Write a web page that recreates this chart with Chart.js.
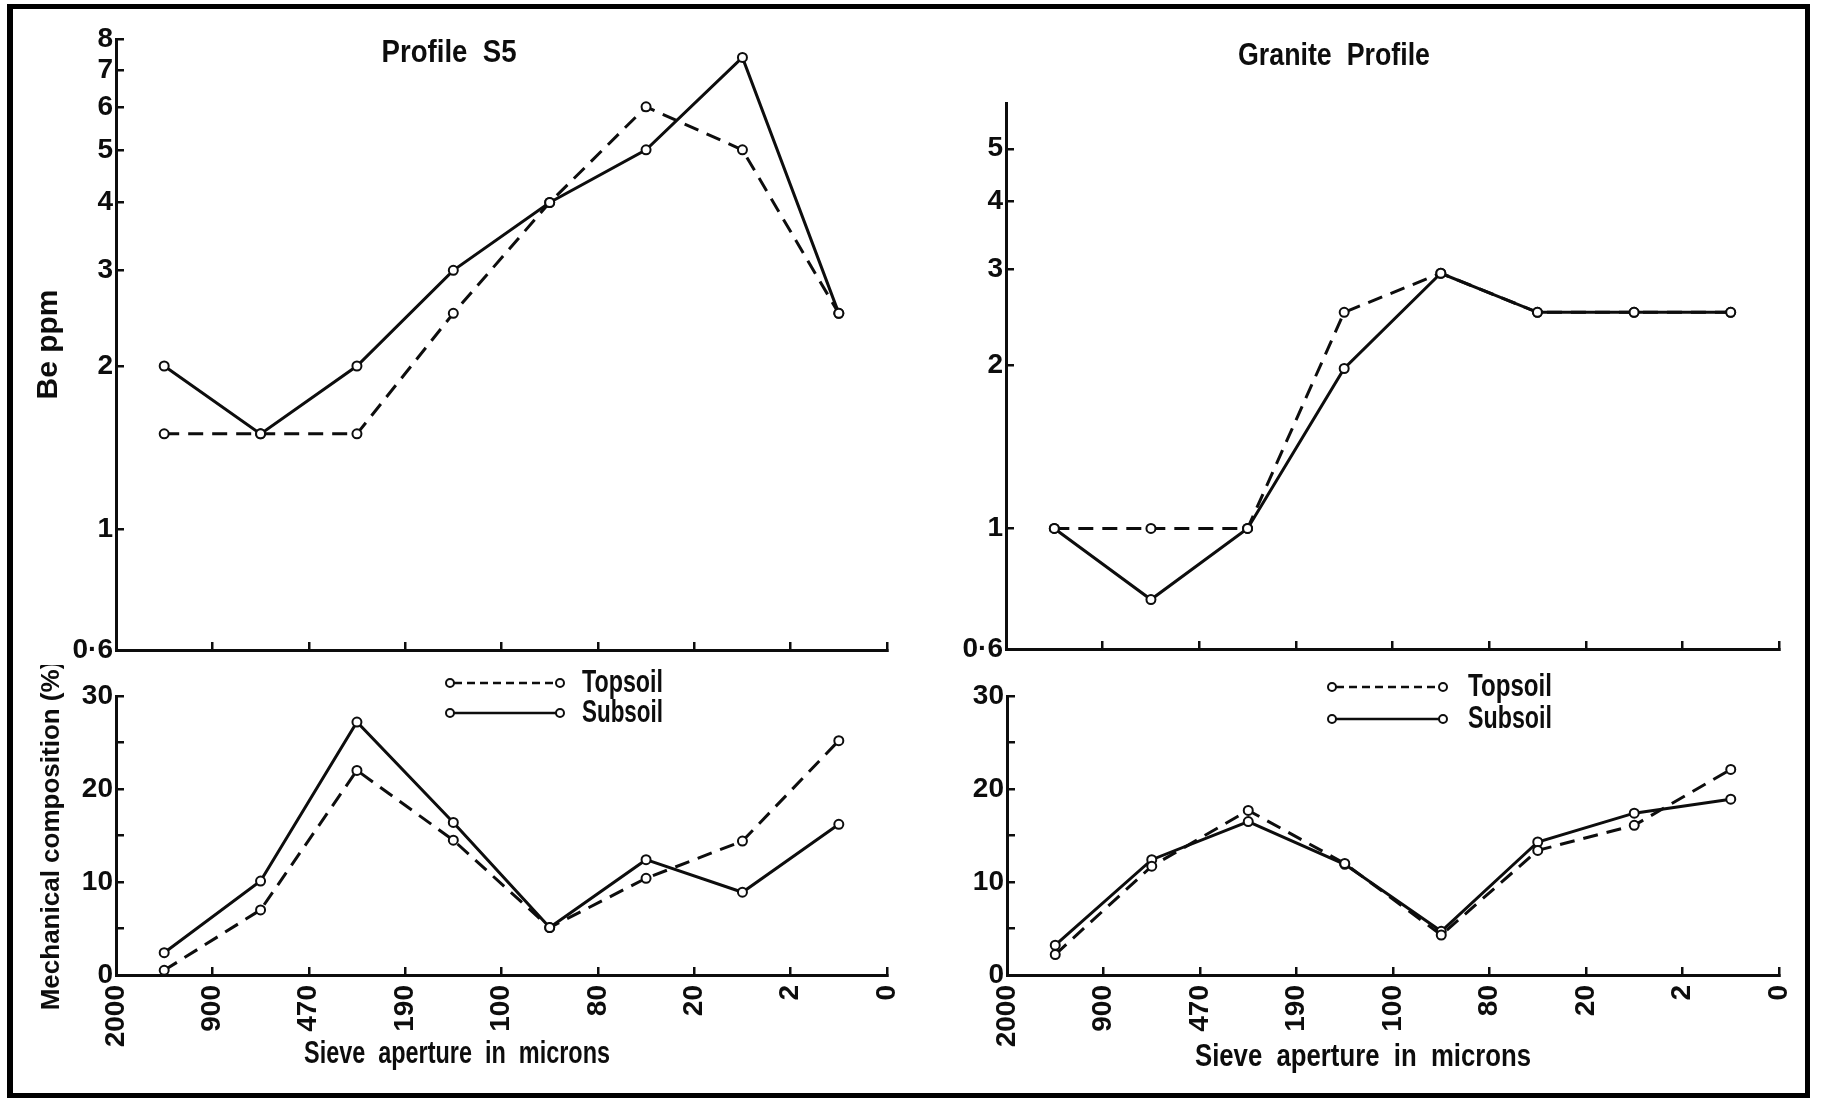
<!DOCTYPE html>
<html>
<head>
<meta charset="utf-8">
<title>Be and mechanical composition by sieve fraction</title>
<script src="https://cdn.jsdelivr.net/npm/chart.js@4.4.1/dist/chart.umd.min.js"></script>
<style>
  html, body { margin: 0; padding: 0; background: #fff; }
  #page { position: relative; width: 1821px; height: 1098px; overflow: hidden; background: #fff; }
  #frame { position: absolute; left: 7px; top: 4px; width: 1803px; height: 1094px;
           border: 5px solid #000; border-left-width: 6px; box-sizing: border-box; }
  canvas { position: absolute; }
</style>
</head>
<body>
<div id="page">
  <div id="frame"></div>
  <canvas id="s5Be" width="905" height="665" style="left:0px;top:0px"></canvas>
  <canvas id="graniteBe" width="925" height="665" style="left:880px;top:0px"></canvas>
  <canvas id="s5Mech" width="905" height="433" style="left:0px;top:665px"></canvas>
  <canvas id="graniteMech" width="925" height="433" style="left:880px;top:665px"></canvas>
</div>
<script>
// Sieve limits (microns) bounding each size fraction, coarse to fine
const SIEVE_LIMITS = ['2000', '900', '470', '190', '100', '80', '20', '2', '0'];
const FRACTIONS = ['2000–900', '900–470', '470–190', '190–100', '100–80', '80–20', '20–2', '2–0'];
const SERIES_NAMES = ['Topsoil', 'Subsoil'];

// Be content (ppm) of each fraction
const S5_BE_TOPSOIL = [1.5, 1.5, 1.5, 2.5, 4.0, 6.0, 5.0, 2.5];
const S5_BE_SUBSOIL = [2.0, 1.5, 2.0, 3.0, 4.0, 5.0, 7.4, 2.5];
const GRANITE_BE_TOPSOIL = [1.0, 1.0, 1.0, 2.5, 2.95, 2.5, 2.5, 2.5];
const GRANITE_BE_SUBSOIL = [1.0, 0.74, 1.0, 1.97, 2.95, 2.5, 2.5, 2.5];

// Mechanical composition (% of soil) of each fraction
const S5_MECH_TOPSOIL = [0.5, 7.0, 22.0, 14.5, 5.1, 10.4, 14.4, 25.2];
const S5_MECH_SUBSOIL = [2.4, 10.1, 27.2, 16.4, 5.1, 12.4, 8.9, 16.2];
const GRANITE_MECH_TOPSOIL = [2.2, 11.7, 17.7, 12.0, 4.3, 13.4, 16.1, 22.1];
const GRANITE_MECH_SUBSOIL = [3.2, 12.4, 16.5, 11.9, 4.7, 14.3, 17.4, 18.9];

// Axis ticks and their printed labels
const BE_TICKS_S5 = [0.6, 1, 2, 3, 4, 5, 6, 7, 8];
const BE_TICK_LABELS_S5 = ['0·6', '1', '2', '3', '4', '5', '6', '7', '8'];
const BE_TICKS_GRANITE = [0.6, 1, 2, 3, 4, 5];
const BE_TICK_LABELS_GRANITE = ['0·6', '1', '2', '3', '4', '5'];
const MECH_TICKS = [0, 5, 10, 15, 20, 25, 30];
const MECH_TICK_LABELS = ['0', '', '10', '', '20', '', '30'];

const INK = '#0d0d0d';
const FONT = "'Liberation Sans', Arial, sans-serif";
const TOPSOIL_DASH = [15, 9];

// Each fraction is plotted at the middle of its sieve interval
function fractionPoints(values) {
  return FRACTIONS.map((f, i) => ({ x: i + 0.5, y: values[i] }));
}

function dataset(name, values) {
  const dashed = name === SERIES_NAMES[0];
  return {
    label: name,
    data: fractionPoints(values),
    borderColor: INK,
    borderWidth: 3,
    borderDash: dashed ? TOPSOIL_DASH : [],
    tension: 0,
    pointRadius: 4.5,
    pointBorderWidth: 2,
    pointBorderColor: INK,
    pointBackgroundColor: '#fff',
    fill: false
  };
}

// Fixed axis box sizes so the plot areas line up across panels
function fixWidth(w) {
  return s => { s.width = w; s.paddingTop = s.paddingBottom = s.paddingLeft = s.paddingRight = 0; };
}
function fixHeight(h) {
  return s => { s.height = h; s.paddingTop = s.paddingBottom = s.paddingLeft = s.paddingRight = 0; };
}

// Inward tick marks, no grid inside the plot
const GRID = { drawOnChartArea: false, drawTicks: true, tickLength: -8, color: INK, lineWidth: 2.5 };
const BORDER = { display: true, color: INK, width: 3 };

// Condensed lettering: text squeezed horizontally to a set width
function drawSqueezed(ctx, text, x, y, width, font, align) {
  ctx.save();
  ctx.font = font;
  ctx.fillStyle = INK;
  ctx.textAlign = align;
  ctx.textBaseline = 'middle';
  const sx = width / ctx.measureText(text).width;
  ctx.translate(x, y);
  ctx.scale(sx, 1);
  ctx.fillText(text, 0, 0);
  ctx.restore();
}

// Free text placed on the canvas (panel headings, sieve caption)
const captionsPlugin = {
  id: 'captions',
  afterDraw(chart, args, opts) {
    (opts.items || []).forEach(it => drawSqueezed(chart.ctx, it.text, it.x, it.y, it.width, it.font, 'center'));
  }
};

// Key: line sample with an open circle at each end, then the series name
const lineKeyPlugin = {
  id: 'lineKey',
  afterDatasetsDraw(chart, args, opts) {
    if (!opts.show) return;
    const { ctx, chartArea } = chart;
    chart.data.datasets.forEach((ds, i) => {
      const y = chartArea.top + opts.rows[i];
      const x1 = chartArea.left + opts.from;
      const x2 = chartArea.left + opts.to;
      const r = 4;
      ctx.save();
      ctx.strokeStyle = INK;
      ctx.lineWidth = 2.5;
      ctx.setLineDash(ds.borderDash && ds.borderDash.length ? opts.dash : []);
      ctx.beginPath();
      ctx.moveTo(x1 + r, y);
      ctx.lineTo(x2 - r, y);
      ctx.stroke();
      ctx.setLineDash([]);
      ctx.lineWidth = 2;
      [x1, x2].forEach(cx => {
        ctx.beginPath();
        ctx.arc(cx, y, r, 0, Math.PI * 2);
        ctx.fillStyle = '#fff';
        ctx.fill();
        ctx.stroke();
      });
      ctx.restore();
      drawSqueezed(ctx, ds.label, chartArea.left + opts.text, y, opts.textWidth, opts.font, 'left');
    });
  }
};

Chart.register(captionsPlugin, lineKeyPlugin);

function sieveAxis(showLabels, boxHeight) {
  return {
    type: 'linear',
    min: 0,
    max: SIEVE_LIMITS.length - 1,
    afterBuildTicks: s => { s.ticks = SIEVE_LIMITS.map((lab, i) => ({ value: i })); },
    ticks: {
      display: showLabels,
      autoSkip: false,
      minRotation: 90,
      maxRotation: 90,
      padding: 18,
      color: INK,
      font: { family: FONT, size: 28, weight: 'bold' },
      callback: (v, i) => SIEVE_LIMITS[i]
    },
    grid: GRID,
    border: BORDER,
    afterFit: fixHeight(boxHeight)
  };
}

function beAxis(max, ticks, labels, axisWidth, title) {
  return {
    type: 'logarithmic',
    min: 0.6,
    max: max,
    afterBuildTicks: s => { s.ticks = ticks.map(v => ({ value: v })); },
    ticks: {
      autoSkip: false,
      padding: 11,
      color: INK,
      font: { family: FONT, size: 28, weight: 'bold' },
      callback: (v, i) => labels[i]
    },
    grid: GRID,
    border: BORDER,
    title: title ? {
      display: true, text: title, color: INK,
      font: { family: FONT, size: 30, weight: 'bold', lineHeight: 1.2 },
      padding: { top: 31, bottom: 0 }
    } : { display: false },
    afterFit: fixWidth(axisWidth)
  };
}

function mechAxis(axisWidth, title) {
  return {
    type: 'linear',
    min: 0,
    max: 30,
    afterBuildTicks: s => { s.ticks = MECH_TICKS.map(v => ({ value: v })); },
    ticks: {
      autoSkip: false,
      padding: 11,
      color: INK,
      font: { family: FONT, size: 28, weight: 'bold' },
      callback: (v, i) => MECH_TICK_LABELS[i]
    },
    grid: GRID,
    border: BORDER,
    title: title ? {
      display: true, text: title, color: INK,
      font: { family: FONT, size: 26, weight: 'bold', lineHeight: 1.2 },
      padding: { top: 36, bottom: 0 }
    } : { display: false },
    afterFit: fixWidth(axisWidth)
  };
}

function makeChart(id, topsoil, subsoil, padding, scales, plugins) {
  return new Chart(document.getElementById(id), {
    type: 'line',
    data: { datasets: [dataset(SERIES_NAMES[0], topsoil), dataset(SERIES_NAMES[1], subsoil)] },
    options: {
      responsive: false,
      animation: false,
      events: [],
      layout: { padding: padding },
      scales: scales,
      plugins: Object.assign({ legend: { display: false }, tooltip: { enabled: false } }, plugins)
    }
  });
}

const TITLE_FONT = "bold 32px " + FONT;
const CAPTION_FONT = "bold 31px " + FONT;
const KEY_FONT = "bold 31px " + FONT;

// Be, profile S5
makeChart('s5Be', S5_BE_TOPSOIL, S5_BE_SUBSOIL,
  { left: 0, top: 39, right: 18, bottom: 0 },
  { x: sieveAxis(false, 15), y: beAxis(8, BE_TICKS_S5, BE_TICK_LABELS_S5, 116, 'Be ppm') },
  { captions: { items: [{ text: 'Profile  S5', x: 449, y: 53, width: 135, font: TITLE_FONT }] } });

// Be, granite profile
makeChart('graniteBe', GRANITE_BE_TOPSOIL, GRANITE_BE_SUBSOIL,
  { left: 0, top: 103, right: 26, bottom: 0 },
  { x: sieveAxis(false, 16), y: beAxis(6.07, BE_TICKS_GRANITE, BE_TICK_LABELS_GRANITE, 126, null) },
  { captions: { items: [{ text: 'Granite  Profile', x: 454, y: 56, width: 192, font: TITLE_FONT }] } });

// Mechanical composition, profile S5
makeChart('s5Mech', S5_MECH_TOPSOIL, S5_MECH_SUBSOIL,
  { left: 0, top: 31, right: 18, bottom: 0 },
  { x: sieveAxis(true, 123), y: mechAxis(116, 'Mechanical composition (%)') },
  {
    captions: { items: [{ text: 'Sieve  aperture  in  microns', x: 457, y: 389, width: 306, font: CAPTION_FONT }] },
    lineKey: { show: true, rows: [-13, 17], from: 334, to: 444, text: 466, textWidth: 81, dash: [8, 5], font: KEY_FONT }
  });

// Mechanical composition, granite profile
makeChart('graniteMech', GRANITE_MECH_TOPSOIL, GRANITE_MECH_SUBSOIL,
  { left: 0, top: 31, right: 26, bottom: 0 },
  { x: sieveAxis(true, 123), y: mechAxis(127, null) },
  {
    captions: { items: [{ text: 'Sieve  aperture  in  microns', x: 483, y: 392, width: 336, font: CAPTION_FONT }] },
    lineKey: { show: true, rows: [-9, 23], from: 325, to: 436, text: 461, textWidth: 84, dash: [8, 5], font: KEY_FONT }
  });
</script>
</body>
</html>
